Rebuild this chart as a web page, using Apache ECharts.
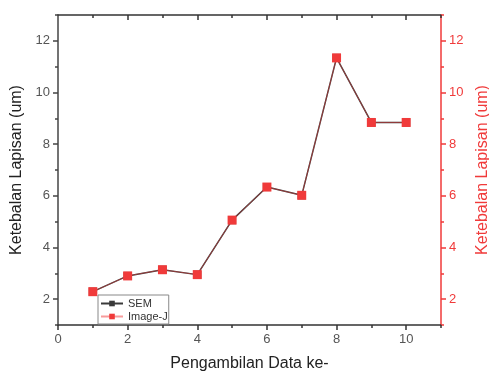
<!DOCTYPE html>
<html><head><meta charset="utf-8">
<script src="https://cdn.jsdelivr.net/npm/echarts@6/dist/echarts.min.js"></script>
<style>html,body{margin:0;padding:0;background:#fff}#c{width:489px;height:373px}</style>
</head><body><div id="c"></div>
<script>
const xValues = [1, 2, 3, 4, 5, 6, 7, 8, 9, 10];
const semValues = [2.29, 2.90, 3.14, 2.95, 5.06, 6.34, 6.02, 11.34, 8.84, 8.84];
const imageJValues = [2.29, 2.90, 3.14, 2.95, 5.06, 6.34, 6.02, 11.34, 8.84, 8.84];
const xMajorTicks = [0, 2, 4, 6, 8, 10];
const xMinorTicks = [1, 3, 5, 7, 9, 11];
const yMajorTicks = [2, 4, 6, 8, 10, 12];
const yMinorTicks = [1, 3, 5, 7, 9, 11, 13];

const RED = '#f03a3a';
const GRAY = '#555';
const FONT = 'Liberation Sans, Arial, sans-serif';

function pairs(xs, ys) { return xs.map((x, i) => [x, ys[i]]); }

function xAx(pos, ticks, len, inside, showLine, showLabel, name) {
  return {
    type: 'value', position: pos, min: 0, max: 11, interval: 1,
    name: name || '', nameLocation: 'middle', nameGap: 31,
    nameTextStyle: {fontSize: 16, color: '#222', fontFamily: FONT},
    axisLine: {show: showLine, onZero: false, lineStyle: {color: '#333', width: 1.5}},
    axisTick: {show: true, inside: inside, length: len, customValues: ticks, lineStyle: {color: '#333', width: 1.5}},
    axisLabel: {show: showLabel, customValues: xMajorTicks, color: GRAY, fontSize: 13, fontFamily: FONT, margin: 8},
    splitLine: {show: false}
  };
}
function yAx(pos, color, lineColor, ticks, len, showLine, showLabel, name) {
  return {
    type: 'value', position: pos, min: 1, max: 13, interval: 1,
    name: name || '', nameLocation: 'middle', nameGap: 32,
    nameTextStyle: {fontSize: 16, color: color === RED ? RED : '#222', fontFamily: FONT},
    axisLine: {show: showLine, onZero: false, lineStyle: {color: lineColor, width: 1.5}},
    axisTick: {show: true, inside: false, length: len, customValues: ticks, lineStyle: {color: lineColor, width: 1.5}},
    axisLabel: {show: showLabel, customValues: yMajorTicks, color: color, fontSize: 13, fontFamily: FONT, margin: 8},
    splitLine: {show: false}
  };
}

const chart = echarts.init(document.getElementById('c'), null, {renderer: 'canvas'});
chart.setOption({
  animation: false,
  backgroundColor: '#fff',
  grid: {left: 58, top: 15, right: 48, bottom: 48, containLabel: false, outerBoundsMode: 'none'},
  legend: {
    left: 98, top: 295, orient: 'vertical', itemGap: 2,
    padding: [3, 1, 2, 2], borderColor: '#888', borderWidth: 1,
    itemWidth: 22, itemHeight: 7,
    textStyle: {fontSize: 11, color: '#333', fontFamily: FONT},
    data: ['SEM', 'Image-J']
  },
  xAxis: [
    xAx('bottom', xMajorTicks, 5, false, true, true, 'Pengambilan Data ke-'),
    xAx('bottom', xMinorTicks, 3, false, false, false),
    xAx('top', [2, 4, 6, 8, 10], 5, true, true, false),
    xAx('top', xMinorTicks, 3, true, false, false)
  ],
  yAxis: [
    yAx('left', GRAY, '#444', yMajorTicks, 5, true, true, 'Ketebalan Lapisan (um)'),
    yAx('left', GRAY, '#444', yMinorTicks, 3, false, false),
    yAx('right', RED, RED, yMajorTicks, 5, true, true, 'Ketebalan Lapisan (um)'),
    yAx('right', RED, RED, yMinorTicks, 3, false, false)
  ],
  series: [
    {name: 'SEM', type: 'line', xAxisIndex: 0, yAxisIndex: 0, data: pairs(xValues, semValues),
     symbol: 'rect', symbolSize: 8, itemStyle: {color: '#3a3a3a'}, lineStyle: {color: '#3a3a3a', width: 1.5}},
    {name: 'Image-J', type: 'line', xAxisIndex: 0, yAxisIndex: 0, data: pairs(xValues, imageJValues),
     symbol: 'rect', symbolSize: 9, itemStyle: {color: RED}, lineStyle: {color: RED, width: 1, opacity: 0.5}}
  ]
});
</script></body></html>
